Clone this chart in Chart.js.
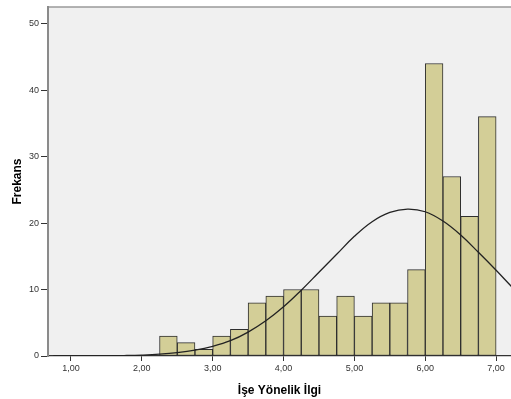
<!DOCTYPE html>
<html>
<head>
<meta charset="utf-8">
<script src="https://cdn.jsdelivr.net/npm/chart.js@4/dist/chart.umd.min.js"></script>
<style>
  body { margin: 0; background: #fff; }
  #wrap { width: 511px; height: 399px; }
</style>
</head>
<body>
<div id="wrap"><canvas id="histChart" width="511" height="399"></canvas></div>
<script>
// histogram bins (lower edges) and counts
const binStarts = [2.25, 2.5, 2.75, 3.0, 3.25, 3.5, 3.75, 4.0, 4.25, 4.5, 4.75, 5.0, 5.25, 5.5, 5.75, 6.0, 6.25, 6.5, 6.75];
const frequencies = [3, 2, 1, 3, 4, 8, 9, 10, 10, 6, 9, 6, 8, 8, 13, 44, 27, 21, 36];
const binWidth = 0.25;

// normal curve
const curveX = [0.75, 1.0, 1.25, 1.5, 1.75, 2.0, 2.25, 2.5, 2.75, 3.0, 3.25, 3.5, 3.75, 4.0, 4.25, 4.5, 4.75, 5.0, 5.25, 5.5, 5.75, 6.0, 6.25, 6.5, 6.75, 7.0, 7.25, 7.5];
const curveY = [0.0, 0.01, 0.02, 0.03, 0.07, 0.14, 0.27, 0.5, 0.87, 1.45, 2.3, 3.6, 5.3, 7.4, 9.9, 12.6, 15.3, 18.0, 20.2, 21.6, 22.1, 21.7, 20.3, 18.2, 15.6, 12.9, 10.1, 7.5];

const xTicks = [1, 2, 3, 4, 5, 6, 7];
const yTicks = [0, 10, 20, 30, 40, 50];

const tickFont = { family: 'Liberation Sans, Arial, sans-serif', size: 9 };
const titleFont = { family: 'Liberation Sans, Arial, sans-serif', size: 12, weight: 'bold' };

// plot background and top frame line
const frame = {
    id: 'frame',
    beforeDraw(chart) {
        const a = chart.chartArea, c = chart.ctx;
        c.save();
        c.fillStyle = '#f0f0f0';
        c.fillRect(a.left, a.top, a.right - a.left, a.bottom - a.top);
        c.strokeStyle = '#9a9a9a';
        c.lineWidth = 1.5;
        c.beginPath();
        c.moveTo(a.left, a.top);
        c.lineTo(a.right, a.top);
        c.stroke();
        c.restore();
    }
};

const ctx = document.getElementById('histChart').getContext('2d');
new Chart(ctx, {
    type: 'bar',
    data: {
        datasets: [
            {
                type: 'line',
                data: curveX.map((x, i) => ({ x: x, y: curveY[i] })),
                borderColor: '#222',
                borderWidth: 1.3,
                pointRadius: 0,
                tension: 0.4,
                fill: false,
                order: 0
            },
            {
                type: 'bar',
                data: binStarts.map((s, i) => ({ x: s + binWidth / 2, y: frequencies[i] })),
                backgroundColor: '#d3ce97',
                borderColor: '#2e2e2e',
                borderWidth: 1,
                borderSkipped: false,
                barPercentage: 1,
                categoryPercentage: 1,
                order: 1
            }
        ]
    },
    options: {
        responsive: false,
        animation: false,
        layout: { padding: { top: 7, right: 0, left: 0, bottom: 0 } },
        plugins: {
            legend: { display: false },
            tooltip: { enabled: false }
        },
        scales: {
            x: {
                type: 'linear',
                offset: false,
                min: 0.676,
                max: 7.21,
                afterBuildTicks: s => { s.ticks = xTicks.map(v => ({ value: v })); },
                afterFit: s => { s.height = 43; s.paddingLeft = 0; s.paddingRight = 0; },
                ticks: {
                    font: tickFont,
                    color: '#333',
                    padding: 2,
                    maxRotation: 0,
                    callback: v => v.toFixed(2).replace('.', ',')
                },
                grid: { offset: false, drawOnChartArea: false, color: '#333', tickLength: 5 },
                border: { display: true, color: '#333', width: 1.3 },
                title: {
                    display: true,
                    text: 'İşe Yönelik İlgi',
                    font: titleFont,
                    color: '#000',
                    padding: { top: 1.5, bottom: 1.5 }
                }
            },
            y: {
                min: 0,
                max: 52.5,
                afterBuildTicks: s => { s.ticks = yTicks.map(v => ({ value: v })); },
                afterFit: s => { s.width = 48; s.paddingTop = 0; s.paddingBottom = 0; },
                ticks: { font: tickFont, color: '#333', padding: 2 },
                grid: { drawOnChartArea: false, color: '#333', tickLength: 7 },
                border: { display: true, color: '#8a8a8a', width: 2 },
                title: {
                    display: true,
                    text: 'Frekans',
                    font: titleFont,
                    color: '#000',
                    padding: { top: 10, bottom: 10 }
                }
            }
        }
    },
    plugins: [frame]
});
</script>
</body>
</html>
